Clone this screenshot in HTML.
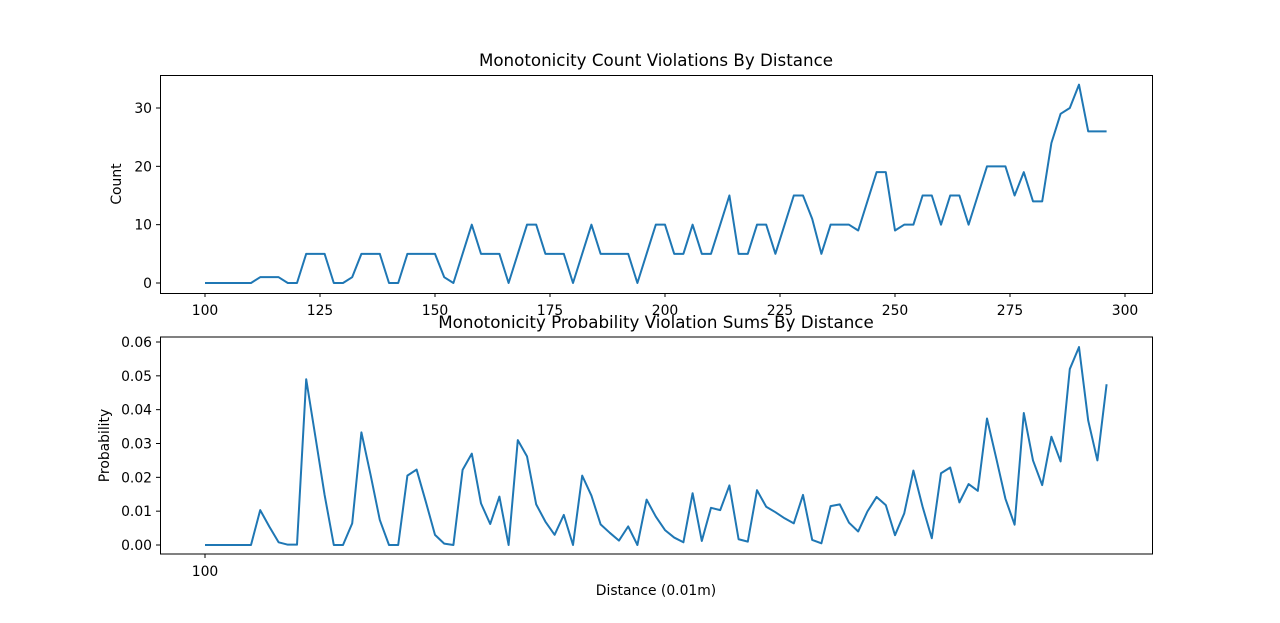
<!DOCTYPE html>
<html><head><meta charset="utf-8"><style>
html,body{margin:0;padding:0;background:#fff;}
svg{display:block;font-family:"DejaVu Sans","Liberation Sans",sans-serif;}
</style></head><body>
<svg id="chart" width="1280" height="623" viewBox="0 0 1280 623" xmlns="http://www.w3.org/2000/svg">
<rect x="0" y="0" width="1280" height="623" fill="#fff"/>
</svg>
<script>
const distances = [];
for (let d = 100; d <= 296; d += 2) distances.push(d);
const counts = [0,0,0,0,0,0,1,1,1,0,0,5,5,5,0,0,1,5,5,5,0,0,5,5,5,5,1,0,5,10,5,5,5,0,5,10,10,5,5,5,0,5,10,5,5,5,5,0,5,10,10,5,5,10,5,5,10,15,5,5,10,10,5,10,15,15,11,5,10,10,10,9,14,19,19,9,10,10,15,15,10,15,15,10,15,20,20,20,15,19,14,14,24,29,30,34,26,26,26];
const probs = [0,0,0,0,0,0,0.0103,0.0054,0.0008,0.0001,0.0001,0.049,0.032,0.0148,0,0,0.0064,0.0333,0.0207,0.0074,0,0,0.0205,0.0223,0.0128,0.003,0.0004,0,0.0222,0.027,0.0123,0.0062,0.0143,0,0.031,0.0262,0.012,0.0069,0.003,0.0089,0,0.0205,0.0146,0.0061,0.0036,0.0013,0.0055,0,0.0134,0.0084,0.0044,0.0022,0.0008,0.0153,0.0012,0.011,0.0103,0.0176,0.0017,0.001,0.0162,0.0113,0.0097,0.0079,0.0064,0.0148,0.0015,0.0005,0.0115,0.012,0.0066,0.004,0.0099,0.0142,0.0118,0.0029,0.0093,0.022,0.0113,0.002,0.0212,0.0229,0.0126,0.018,0.016,0.0374,0.0257,0.0137,0.006,0.039,0.025,0.0177,0.032,0.0247,0.052,0.0585,0.0368,0.025,0.0475];
const topTicksX = [100,125,150,175,200,225,250,275,300];
const topTicksY = [0,10,20,30];
const botTicksX = [100];
const botTicksY = [0,0.01,0.02,0.03,0.04,0.05,0.06];

const NS = "http://www.w3.org/2000/svg";
const svg = document.getElementById('chart');
function mk(tag, attrs, parent){const e=document.createElementNS(NS,tag);for(const k in attrs)e.setAttribute(k,attrs[k]);(parent||svg).appendChild(e);return e;}
const xs = d => 205 + (d-100)*4.6;
const ysTop = v => 283 - v*(175/30);
const ysBot = v => 545 - v*(203/0.06);

function axes(name, top, bottom, title, ylabel, ylx, xticks, yticks, ys, fmt){
  const g = mk('g',{});
  
  
  const t = mk('text',{x:656,y:top-9,'text-anchor':'middle','font-size':16.7,fill:'#000'},g);
  t.textContent = title;
  
  
  const yl = mk('text',{x:ylx,y:(top+bottom)/2,'text-anchor':'middle','font-size':13.9,fill:'#000',transform:`rotate(-90 ${ylx} ${(top+bottom)/2})`},g);
  yl.textContent = ylabel;
  
  
  xticks.forEach(v=>{
    const x=xs(v);
    mk('line',{x1:x,x2:x,y1:bottom,y2:bottom+4,stroke:'#000','stroke-width':1},g);
    const tx=mk('text',{x:x,y:bottom+22,'text-anchor':'middle','font-size':13.9,fill:'#000'},g);
    tx.textContent=v;
    
    
  });
  yticks.forEach(v=>{
    const y=ys(v);
    mk('line',{x1:160,x2:156,y1:y,y2:y,stroke:'#000','stroke-width':1},g);
    const ty=mk('text',{x:152,y:y+5,'text-anchor':'end','font-size':13.9,fill:'#000'},g);
    ty.textContent=fmt(v);
    
    
  });
  return g;
}
const g1 = axes('count-axes',75,293,'Monotonicity Count Violations By Distance','Count',121,topTicksX,topTicksY,ysTop,v=>String(v));
const g2 = axes('probability-axes',337,554,'Monotonicity Probability Violation Sums By Distance','Probability',109,botTicksX,botTicksY,ysBot,v=>v.toFixed(2));

const l1 = mk('polyline',{points:distances.map((d,i)=>xs(d)+','+ysTop(counts[i])).join(' '),fill:'none',stroke:'#1f77b4','stroke-width':2,'stroke-linejoin':'round'},g1);


const l2 = mk('polyline',{points:distances.map((d,i)=>xs(d)+','+ysBot(probs[i])).join(' '),fill:'none',stroke:'#1f77b4','stroke-width':2,'stroke-linejoin':'round'},g2);


mk('rect',{x:160.5,y:75.5,width:992,height:218,fill:'none',stroke:'#000','stroke-width':1},g1);
mk('rect',{x:160.5,y:337,width:992,height:217,fill:'none',stroke:'#000','stroke-width':1},g2);
const xl = mk('text',{x:656,y:595,'text-anchor':'middle','font-size':13.9,fill:'#000'});
xl.textContent='Distance (0.01m)';


</script>
</body></html>
